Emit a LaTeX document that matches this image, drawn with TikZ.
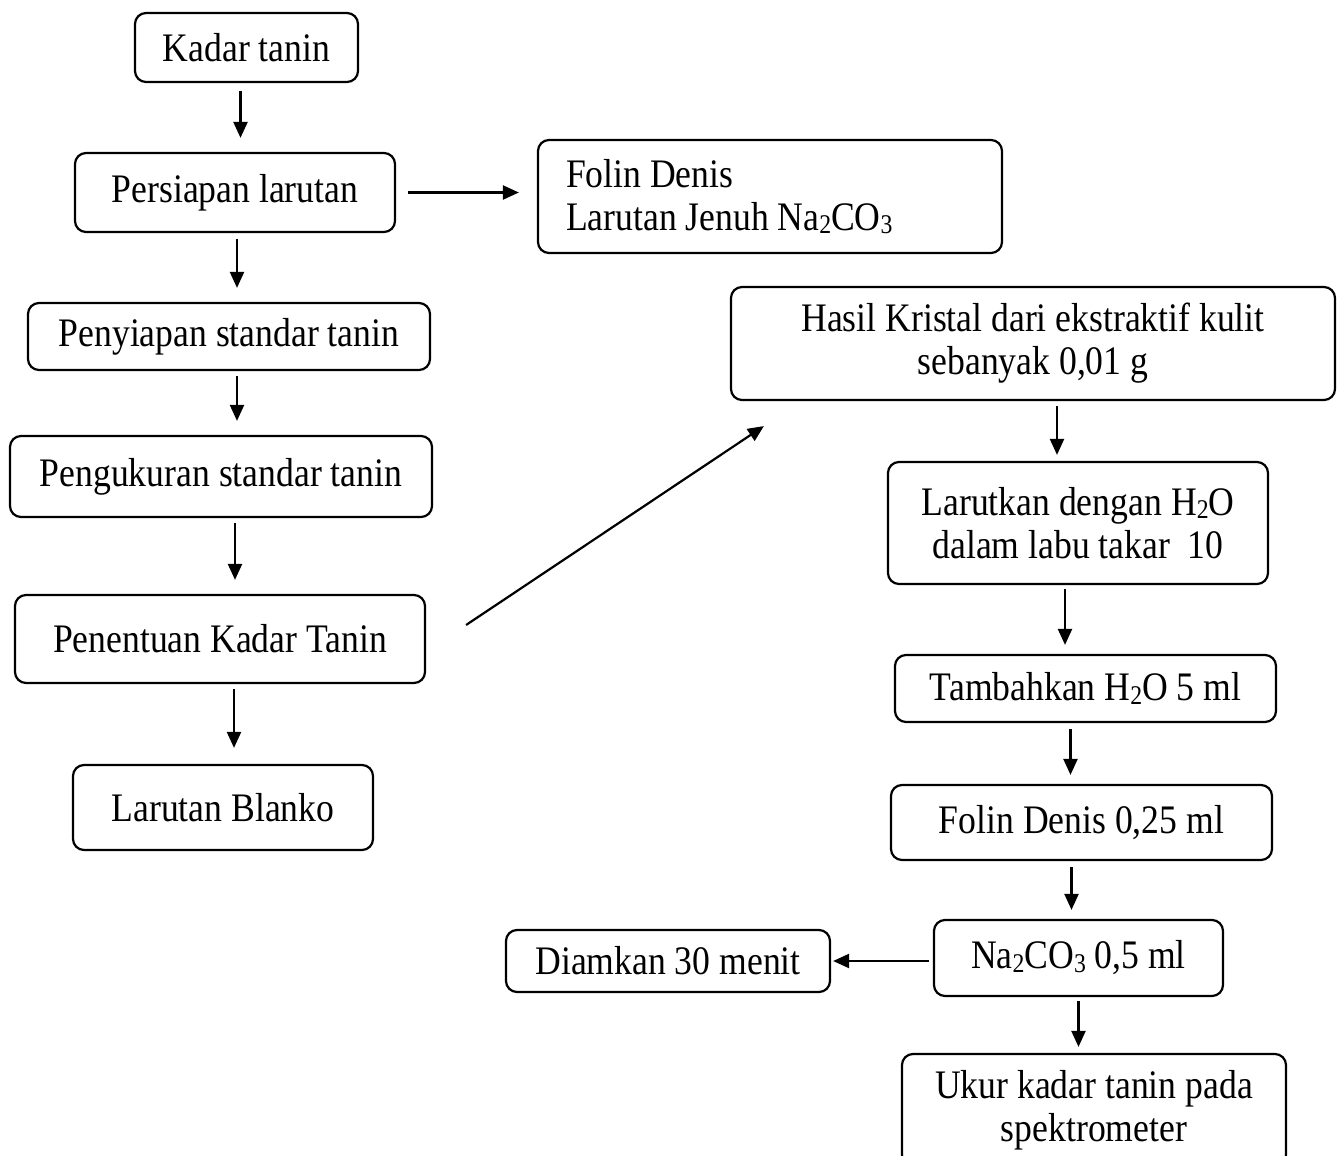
\documentclass[tikz,border=0pt]{standalone}
\usepackage{fontspec}
\setmainfont{Liberation Serif}[FakeStretch=0.88]
\usetikzlibrary{arrows.meta}
\newcommand{\chemsub}[1]{\raisebox{-3.5pt}{\fontsize{27}{27}\selectfont #1}}
\begin{document}
\begin{tikzpicture}[x=1pt,y=-1pt,
  box/.style={draw, line width=2.2pt, rounded corners=11pt, inner sep=0pt, align=center,
    font=\fontsize{40.5}{43}\selectfont},
  arr/.style={line width=2.2pt, -{Triangle[length=16pt,width=14pt]}}]
\useasboundingbox (0,0) rectangle (1342,1156);
% left column
\node[box, minimum width=223, minimum height=69] (kadar) at (246.5,47.5) {Kadar tanin};
\node[box, minimum width=320, minimum height=79] (persiapan) at (235,192.5) {Persiapan larutan};
\node[box, minimum width=402, minimum height=67] (penyiapan) at (229,336.5) {Penyiapan standar tanin};
\node[box, minimum width=422, minimum height=81] (pengukuran) at (221,476.5) {Pengukuran standar tanin};
\node[box, minimum width=410, minimum height=88] (penentuan) at (220,639) {Penentuan Kadar Tanin};
\node[box, minimum width=300, minimum height=85] (blanko) at (223,807.5) {Larutan Blanko};
% reagents
\node[box, align=flush left, text width=408, inner xsep=28pt, minimum height=113] (reagen) at (770,196.5)
  {Folin Denis\\Larutan Jenuh Na\chemsub{2}CO\chemsub{3}};
% right column
\node[box, minimum width=604, minimum height=113] (hasil) at (1033,343.5)
  {Hasil Kristal dari ekstraktif kulit\\sebanyak 0,01 g};
\node[box, minimum width=380, minimum height=122] (larutkan) at (1078,523)
  {Larutkan dengan H\chemsub{2}O\\dalam labu takar\ \ 10};
\node[box, minimum width=381, minimum height=67] (tambah) at (1085.5,688.5) {Tambahkan H\chemsub{2}O 5 ml};
\node[box, minimum width=381, minimum height=75] (folin) at (1081.5,822.5) {Folin Denis 0,25 ml};
\node[box, minimum width=289, minimum height=76] (naco) at (1078.5,958) {Na\chemsub{2}CO\chemsub{3} 0,5 ml};
\node[box, minimum width=324, minimum height=62] (diam) at (668,961) {Diamkan 30 menit};
\node[box, minimum width=384, minimum height=112] (ukur) at (1094,1110)
  {Ukur kadar tanin pada\\spektrometer};
% connectors
\draw[arr, shorten <=8pt, shorten >=14pt] ([xshift=-6pt]kadar.south) -- ([xshift=-6pt]kadar.south |- persiapan.north);
\draw[arr, shorten <=12pt, shorten >=18pt] (persiapan.east) -- (reagen.west |- persiapan.east);
\draw[arr, shorten <=6pt, shorten >=14pt] ([xshift=2pt]persiapan.south) -- ([xshift=2pt]persiapan.south |- penyiapan.north);
\draw[arr, shorten <=5pt, shorten >=14pt] ([xshift=8pt]penyiapan.south) -- ([xshift=8pt]penyiapan.south |- pengukuran.north);
\draw[arr, shorten <=5pt, shorten >=14pt] ([xshift=14pt]pengukuran.south) -- ([xshift=14pt]pengukuran.south |- penentuan.north);
\draw[arr, shorten <=5pt, shorten >=16pt] ([xshift=14pt]penentuan.south) -- ([xshift=14pt]penentuan.south |- blanko.north);
\coordinate (diagfrom) at ([xshift=40pt,yshift=14pt]penentuan.east);
\coordinate (diagto) at ([xshift=34pt,yshift=-25pt]hasil.south west);
\draw[arr] (diagfrom) -- (diagto);
\draw[arr, shorten <=5pt, shorten >=6pt] ([xshift=24pt]hasil.south) -- ([xshift=24pt]hasil.south |- larutkan.north);
\draw[arr, shorten <=4pt, shorten >=9pt] ([xshift=-13pt]larutkan.south) -- ([xshift=-13pt]larutkan.south |- tambah.north);
\draw[arr, shorten <=6pt, shorten >=9pt] ([xshift=-15pt]tambah.south) -- ([xshift=-15pt]tambah.south |- folin.north);
\draw[arr, shorten <=6pt, shorten >=9pt] ([xshift=-10pt]folin.south) -- ([xshift=-10pt]folin.south |- naco.north);
\draw[arr, shorten <=4pt, shorten >=2pt] (naco.west |- diam.east) -- (diam.east);
\draw[arr, shorten <=4pt, shorten >=6pt] (naco.south) -- (naco.south |- ukur.north);
\end{tikzpicture}
\end{document}
